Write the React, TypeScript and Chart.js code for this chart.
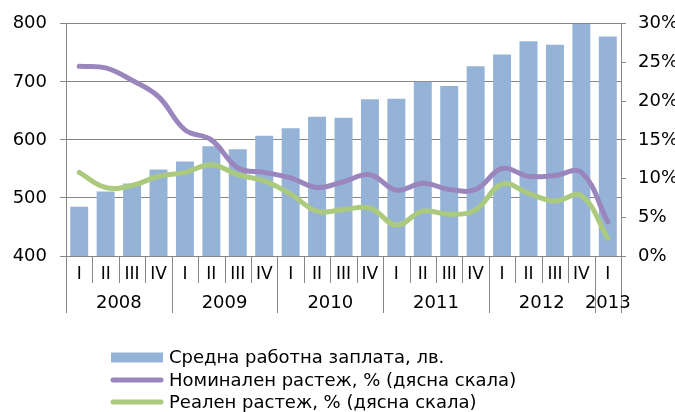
import React, { useEffect, useRef } from "react";
import { Chart, registerables } from "chart.js";

Chart.register(...registerables);

const quarters = ["I", "II", "III", "IV", "I", "II", "III", "IV", "I", "II", "III", "IV", "I", "II", "III", "IV", "I", "II", "III", "IV", "I"];
const years = ["2008", "2009", "2010", "2011", "2012", "2013"];
const avgWage = [485, 511, 525, 549, 563, 589, 584, 607, 620, 640, 638, 670, 671, 700, 693, 727, 747, 770, 764, 800, 778];
const nominalGrowth = [24.5, 24.3, 22.7, 20.6, 16.3, 15.0, 11.4, 10.8, 10.1, 8.85, 9.6, 10.5, 8.5, 9.4, 8.6, 8.6, 11.3, 10.3, 10.4, 10.8, 4.4];
const realGrowth = [10.8, 8.85, 9.1, 10.3, 10.8, 11.8, 10.5, 9.7, 8.0, 5.8, 6.0, 6.2, 4.0, 5.8, 5.4, 5.95, 9.3, 8.1, 7.1, 7.8, 2.3];
const seriesNames = ["Средна работна заплата, лв.", "Номинален растеж, % (дясна скала)", "Реален растеж, % (дясна скала)"];

const FONT = "'DejaVu Sans', Verdana, sans-serif";
const GRID = "#868686";

const groupPlugin = {
  id: "groupAxis",
  afterDraw(chart: any) {
    const ctx = chart.ctx;
    const xs = chart.scales.x;
    const area = chart.chartArea;
    const p0 = xs.getPixelForValue(0);
    const p1 = xs.getPixelForValue(1);
    const sp = p1 - p0;
    const start = p0 - sp / 2;
    const n = quarters.length;
    ctx.save();
    ctx.strokeStyle = GRID;
    ctx.lineWidth = 1;
    for (let k = 0; k <= n; k++) {
      const x = Math.round(start + k * sp) + 0.5;
      const isYear = k % 4 === 0 || k === n;
      ctx.beginPath();
      ctx.moveTo(x, area.bottom);
      ctx.lineTo(x, area.bottom + (isYear ? 57 : 27));
      ctx.stroke();
    }
    ctx.fillStyle = "#000";
    ctx.font = `18px ${FONT}`;
    ctx.textAlign = "center";
    ctx.textBaseline = "middle";
    years.forEach((y, j) => {
      const a = 4 * j;
      const b = Math.min(4 * j + 4, n);
      const cx = start + ((a + b) / 2) * sp;
      ctx.fillText(y, cx, area.bottom + 47);
    });
    ctx.restore();

    // legend
    ctx.save();
    const lx = 111;
    const rows = [357.5, 380, 402];
    ctx.font = `18px ${FONT}`;
    ctx.textAlign = "left";
    ctx.textBaseline = "middle";
    chart.data.datasets.forEach((ds: any, i: number) => {
      const cy = rows[i];
      if (ds.type === "bar") {
        ctx.fillStyle = ds.backgroundColor;
        ctx.fillRect(lx, cy - 5, 52, 10);
      } else {
        ctx.strokeStyle = ds.borderColor;
        ctx.lineWidth = 5;
        ctx.lineCap = "round";
        ctx.beginPath();
        ctx.moveTo(lx + 2, cy);
        ctx.lineTo(lx + 50, cy);
        ctx.stroke();
      }
      ctx.fillStyle = "#000";
      ctx.fillText(ds.label, 169, cy + 1);
    });
    ctx.restore();
  },
};

export default function App() {
  const ref = useRef<HTMLCanvasElement>(null);
  useEffect(() => {
    if (!ref.current) return;
    const chart = new Chart(ref.current, {
      type: "bar",
      data: {
        labels: quarters,
        datasets: [
          {
            type: "bar",
            label: seriesNames[0],
            data: avgWage,
            backgroundColor: "#95b3d7",
            yAxisID: "y",
            order: 3,
            categoryPercentage: 1,
            barPercentage: 0.68,
          } as any,
          {
            type: "line",
            label: seriesNames[1],
            data: nominalGrowth,
            borderColor: "#9a86bd",
            backgroundColor: "#9a86bd",
            borderWidth: 5,
            borderCapStyle: "round",
            borderJoinStyle: "round",
            pointRadius: 0,
            tension: 0.4,
            yAxisID: "y1",
            order: 1,
          },
          {
            type: "line",
            label: seriesNames[2],
            data: realGrowth,
            borderColor: "#abca7d",
            backgroundColor: "#abca7d",
            borderWidth: 5,
            borderCapStyle: "round",
            borderJoinStyle: "round",
            pointRadius: 0,
            tension: 0.4,
            yAxisID: "y1",
            order: 2,
          },
        ],
      },
      options: {
        responsive: false,
        animation: false,
        layout: { padding: { top: 21, left: 0, right: 0, bottom: 96 } },
        plugins: { legend: { display: false }, tooltip: { enabled: false } },
        scales: {
          x: {
            offset: true,
            grid: { display: false, drawTicks: false },
            border: { display: false },
            ticks: { font: { family: FONT, size: 17 }, color: "#000", padding: 8, maxRotation: 0, autoSkip: false },
            afterFit: (s: any) => { s.height = 60; },
          },
          y: {
            position: "left",
            min: 400,
            max: 800,
            ticks: { stepSize: 100, font: { family: FONT, size: 18 }, color: "#000", padding: 13 },
            grid: { color: GRID, tickLength: 6, lineWidth: 1 },
            border: { color: GRID },
            afterFit: (s: any) => { s.width = 66; },
          },
          y1: {
            position: "right",
            min: 0,
            max: 30,
            ticks: { stepSize: 5, font: { family: FONT, size: 18 }, color: "#000", padding: 12, callback: (v: any) => v + "%" },
            grid: { drawOnChartArea: false, color: GRID, tickLength: 5 },
            border: { color: GRID },
            afterFit: (s: any) => { s.width = 54; },
          },
        },
      },
      plugins: [groupPlugin],
    });
    return () => chart.destroy();
  }, []);
  return (
    <div style={{ position: "fixed", left: 0, top: 0, width: 675, height: 412, background: "#fff" }}>
      <canvas ref={ref} width={675} height={412} style={{ width: 675, height: 412 }} />
    </div>
  );
}
